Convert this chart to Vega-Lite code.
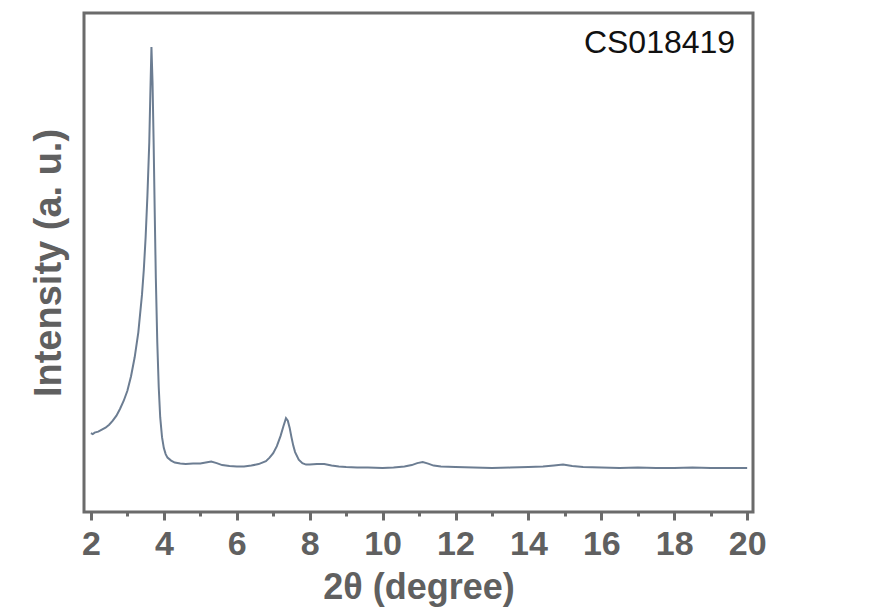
{
  "$schema": "https://vega.github.io/schema/vega-lite/v6.json",
  "width": 669,
  "height": 499,
  "autosize": {"type": "none"},
  "padding": {"left": 84, "top": 13, "right": 123, "bottom": 99},
  "background": "white",
  "config": {
    "view": {"stroke": "#6b6b6b", "strokeWidth": 3},
    "font": "Liberation Sans"
  },
  "data": {
    "values": [
      {"t": 2.0, "i": 15.8}, {"t": 2.05, "i": 15.6}, {"t": 2.1, "i": 15.9}, {"t": 2.2, "i": 16.1}, {"t": 2.3, "i": 16.5},
      {"t": 2.4, "i": 16.9}, {"t": 2.5, "i": 17.5}, {"t": 2.6, "i": 18.3}, {"t": 2.7, "i": 19.3},
      {"t": 2.8, "i": 20.7}, {"t": 2.9, "i": 22.3}, {"t": 3.0, "i": 24.3}, {"t": 3.1, "i": 27.2},
      {"t": 3.2, "i": 31.0}, {"t": 3.3, "i": 36.0}, {"t": 3.4, "i": 43.5}, {"t": 3.45, "i": 48.5},
      {"t": 3.5, "i": 55.0}, {"t": 3.55, "i": 63.5}, {"t": 3.6, "i": 74.0}, {"t": 3.63, "i": 84.0},
      {"t": 3.66, "i": 93.2}, {"t": 3.69, "i": 86.0}, {"t": 3.72, "i": 74.0}, {"t": 3.75, "i": 60.0},
      {"t": 3.78, "i": 47.0}, {"t": 3.82, "i": 34.0}, {"t": 3.86, "i": 25.0}, {"t": 3.9, "i": 19.0},
      {"t": 3.95, "i": 15.0}, {"t": 4.0, "i": 12.8}, {"t": 4.05, "i": 11.6}, {"t": 4.1, "i": 10.9},
      {"t": 4.2, "i": 10.3}, {"t": 4.3, "i": 9.9}, {"t": 4.45, "i": 9.7}, {"t": 4.6, "i": 9.6},
      {"t": 4.8, "i": 9.7}, {"t": 5.0, "i": 9.7}, {"t": 5.15, "i": 9.9}, {"t": 5.3, "i": 10.1},
      {"t": 5.45, "i": 9.8}, {"t": 5.6, "i": 9.4}, {"t": 5.8, "i": 9.2}, {"t": 6.0, "i": 9.1},
      {"t": 6.2, "i": 9.1}, {"t": 6.4, "i": 9.3}, {"t": 6.6, "i": 9.6}, {"t": 6.8, "i": 10.2},
      {"t": 6.9, "i": 10.9}, {"t": 7.0, "i": 11.8}, {"t": 7.1, "i": 13.2}, {"t": 7.2, "i": 15.2},
      {"t": 7.28, "i": 17.2}, {"t": 7.35, "i": 18.8}, {"t": 7.4, "i": 18.3}, {"t": 7.45, "i": 16.9},
      {"t": 7.5, "i": 15.0}, {"t": 7.55, "i": 13.3}, {"t": 7.6, "i": 12.0}, {"t": 7.7, "i": 10.5},
      {"t": 7.8, "i": 9.8}, {"t": 7.9, "i": 9.5}, {"t": 8.0, "i": 9.5}, {"t": 8.2, "i": 9.6},
      {"t": 8.4, "i": 9.6}, {"t": 8.6, "i": 9.3}, {"t": 8.8, "i": 9.1}, {"t": 9.0, "i": 9.0},
      {"t": 9.3, "i": 8.9}, {"t": 9.6, "i": 8.9}, {"t": 10.0, "i": 8.8}, {"t": 10.3, "i": 8.9},
      {"t": 10.6, "i": 9.1}, {"t": 10.8, "i": 9.4}, {"t": 10.95, "i": 9.8}, {"t": 11.1, "i": 10.0},
      {"t": 11.25, "i": 9.7}, {"t": 11.4, "i": 9.3}, {"t": 11.6, "i": 9.1}, {"t": 12.0, "i": 9.0},
      {"t": 12.5, "i": 8.9}, {"t": 13.0, "i": 8.8}, {"t": 13.5, "i": 8.9}, {"t": 14.0, "i": 9.0},
      {"t": 14.4, "i": 9.1}, {"t": 14.7, "i": 9.3}, {"t": 14.95, "i": 9.5}, {"t": 15.2, "i": 9.2},
      {"t": 15.5, "i": 9.0}, {"t": 16.0, "i": 8.9}, {"t": 16.5, "i": 8.8}, {"t": 17.0, "i": 8.9},
      {"t": 17.5, "i": 8.8}, {"t": 18.0, "i": 8.8}, {"t": 18.5, "i": 8.9}, {"t": 19.0, "i": 8.8},
      {"t": 19.5, "i": 8.8}, {"t": 20.0, "i": 8.8}
    ]
  },
  "layer": [
    {
      "mark": {"type": "line", "color": "#6c7d92", "strokeWidth": 2},
      "encoding": {
        "x": {
          "field": "t", "type": "quantitative",
          "scale": {"domain": [1.81, 20.16], "nice": false, "zero": false},
          "axis": {
            "orient": "bottom",
            "values": [2, 4, 6, 8, 10, 12, 14, 16, 18, 20],
            "grid": false, "domain": false,
            "tickColor": "#6b6b6b", "tickWidth": 3, "tickSize": 8,
            "labelFont": "Liberation Sans", "labelFontWeight": "bold", "labelFontSize": 34,
            "labelColor": "#606060", "labelPadding": 7,
            "title": "2θ (degree)",
            "titleFont": "Liberation Sans", "titleFontWeight": "bold", "titleFontSize": 36,
            "titleColor": "#606060", "titlePadding": 9
          }
        },
        "y": {
          "field": "i", "type": "quantitative",
          "scale": {"domain": [0, 100], "nice": false, "zero": false},
          "axis": {
            "ticks": false, "labels": false, "grid": false, "domain": false,
            "title": "Intensity (a. u.)",
            "titleFont": "Liberation Sans", "titleFontWeight": "bold", "titleFontSize": 38,
            "titleColor": "#606060", "titlePadding": 16
          }
        }
      }
    },
    {
      "mark": {"type": "line", "opacity": 0},
      "encoding": {
        "x": {
          "field": "t", "type": "quantitative",
          "axis": {
            "orient": "bottom",
            "values": [3, 5, 7, 9, 11, 13, 15, 17, 19],
            "grid": false, "domain": false, "labels": false, "title": null,
            "tickColor": "#6b6b6b", "tickWidth": 3, "tickSize": 4
          }
        },
        "y": {"field": "i", "type": "quantitative"}
      }
    },
    {
      "data": {"values": [{"t": 19.67, "i": 92, "label": "CS018419"}]},
      "mark": {"type": "text", "align": "right", "baseline": "alphabetic", "font": "Liberation Sans", "fontSize": 32, "color": "#111111"},
      "encoding": {
        "x": {"field": "t", "type": "quantitative", "axis": null},
        "y": {"field": "i", "type": "quantitative"},
        "text": {"field": "label"}
      }
    }
  ],
  "resolve": {"axis": {"x": "independent"}}
}
